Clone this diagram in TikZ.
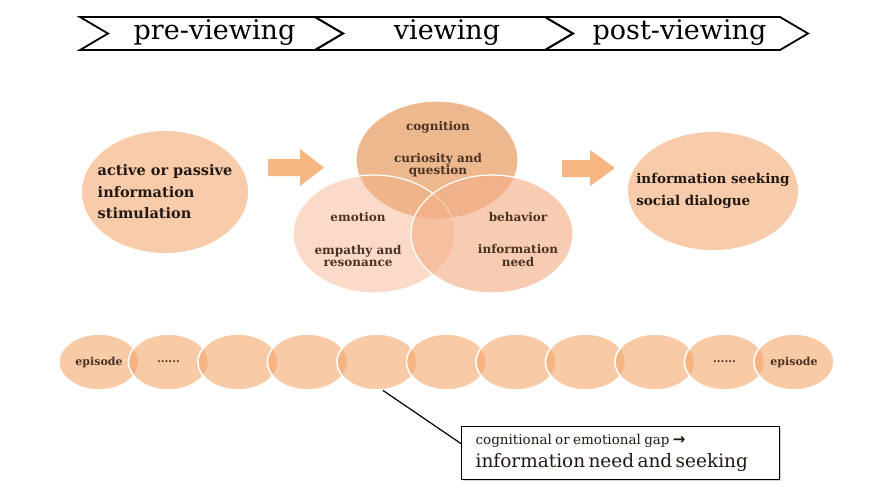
\documentclass[tikz,border=0pt]{standalone}
\usepackage{fontspec}
\setmainfont{DejaVu Serif}
\newfontfamily\symbfont{DejaVu Sans}
\usetikzlibrary{shapes.geometric,shadows}
\definecolor{peach}{RGB}{248,204,170}
\definecolor{arrowfill}{RGB}{245,182,130}
\definecolor{vennfill}{HTML}{F4B08A}
\definecolor{venntop}{HTML}{E8A068}
\definecolor{epifill}{HTML}{F3A66A}
\definecolor{inktext}{RGB}{35,25,20}
\definecolor{vennink}{RGB}{75,50,35}
\newcommand\epidots{......}

\begin{document}
\begin{tikzpicture}[x=1pt,y=-1pt,
    stage/.style={draw=black,line width=1.8pt,line join=miter},
    stagetext/.style={font=\fontsize{27}{27}\selectfont},
    bubble/.style={ellipse,fill=peach,minimum width=166pt,minimum height=122pt,inner sep=0pt},
    bubbletext/.style={text=inktext,align=left,font=\bfseries\fontsize{14.5}{21.5}\selectfont},
    venn/.style={ellipse,minimum width=162pt,minimum height=118pt,inner sep=0pt,
        draw=white,line width=1.2pt},
    venntext/.style={text=vennink,align=center,font=\bfseries\fontsize{12}{12.5}\selectfont},
    episode/.style={ellipse,minimum width=80pt,minimum height=56pt,inner sep=0pt,
        fill=epifill,fill opacity=.6,draw=white,line width=1.6pt,text opacity=1,
        text=vennink,font=\bfseries\fontsize{11}{11}\selectfont},
    blockarrow/.style={fill=arrowfill}]
    \useasboundingbox (0,0) rectangle (872,491);

    % Fases: antes, durante y después de ver.
    \foreach \xl/\xr/\lab/\name in {80/315/pre-viewing/pre,315/545/viewing/view,545/780/post-viewing/post}{
        \draw[stage] (\xl,17) -- (\xr,17) -- ++(28,16.5) -- (\xr,50) -- (\xl,50) -- ++(28,-16.5) -- cycle;
        \node[stagetext] (\name) at ({(\xl+\xr)/2+17},33) {\lab};
    }

    % Estímulo inicial y resultado final.
    \node[bubble] (stimulus) at (165,192) {};
    \node[bubbletext] (stimulus-text) at (stimulus.center) {active or passive\\information\\stimulation};
    \node[bubble,minimum width=170pt,minimum height=118pt] (seeking) at (713,191) {};
    \node[bubbletext,font=\bfseries\fontsize{13.5}{22}\selectfont] (seeking-text) at (seeking.center)
        {information seeking\\social dialogue};

    % Flechas de bloque entre las fases.
    \fill[blockarrow] (268,159) -- (300,159) -- (300,149) -- (324,167.5)
        -- (300,186) -- (300,176) -- (268,176) -- cycle;
    \fill[blockarrow] (562,160) -- (590,160) -- (590,150) -- (615,168)
        -- (590,186) -- (590,177) -- (562,177) -- cycle;

    % Diagrama de Venn: cognición, emoción y conducta.
    \node[venn,fill=venntop,fill opacity=.75] (cognition) at (437,160) {};
    \node[venn,fill=vennfill,fill opacity=.45] (emotion) at (374,234) {};
    \node[venn,fill=vennfill,fill opacity=.65] (behavior) at (492,234) {};

    \node[venntext] (cog-title) at (438,127) {cognition};
    \node[venntext] (cog-text) at (438,165) {curiosity and\\question};
    \node[venntext] (emo-title) at (358,217) {emotion};
    \node[venntext] (emo-text) at (358,256) {empathy and\\resonance};
    \node[venntext] (beh-title) at (518,217) {behavior};
    \node[venntext] (beh-text) at (518,255.5) {information\\need};

    % Cadena de episodios.
    \foreach \i/\lab in {1/episode,2/\epidots,3/,4/,5/,6/,7/,8/,9/,10/\epidots,11/episode}
        \node[episode] (epi-\i) at ({99+69.5*(\i-1)},362) {\lab};

    % Recuadro de la brecha.
    \node[draw=black,fill=white,line width=1.2pt,anchor=north west,inner xsep=14pt,
        drop shadow={shadow xshift=1.5pt,shadow yshift=-1.5pt,opacity=.35},
        minimum height=53pt,text width=290pt,align=left,text=inktext] (gapbox) at (461,426)
        {{\fontsize{13.5}{22}\selectfont cognitional or emotional gap {\symbfont\bfseries\fontsize{15}{22}\selectfont →}}\\[5pt]
         {\fontsize{18.5}{18.5}\selectfont information need and seeking}};
    \draw[line width=1.2pt] (epi-5.-78) -- ([yshift=9.5pt]gapbox.west);
\end{tikzpicture}
\end{document}
